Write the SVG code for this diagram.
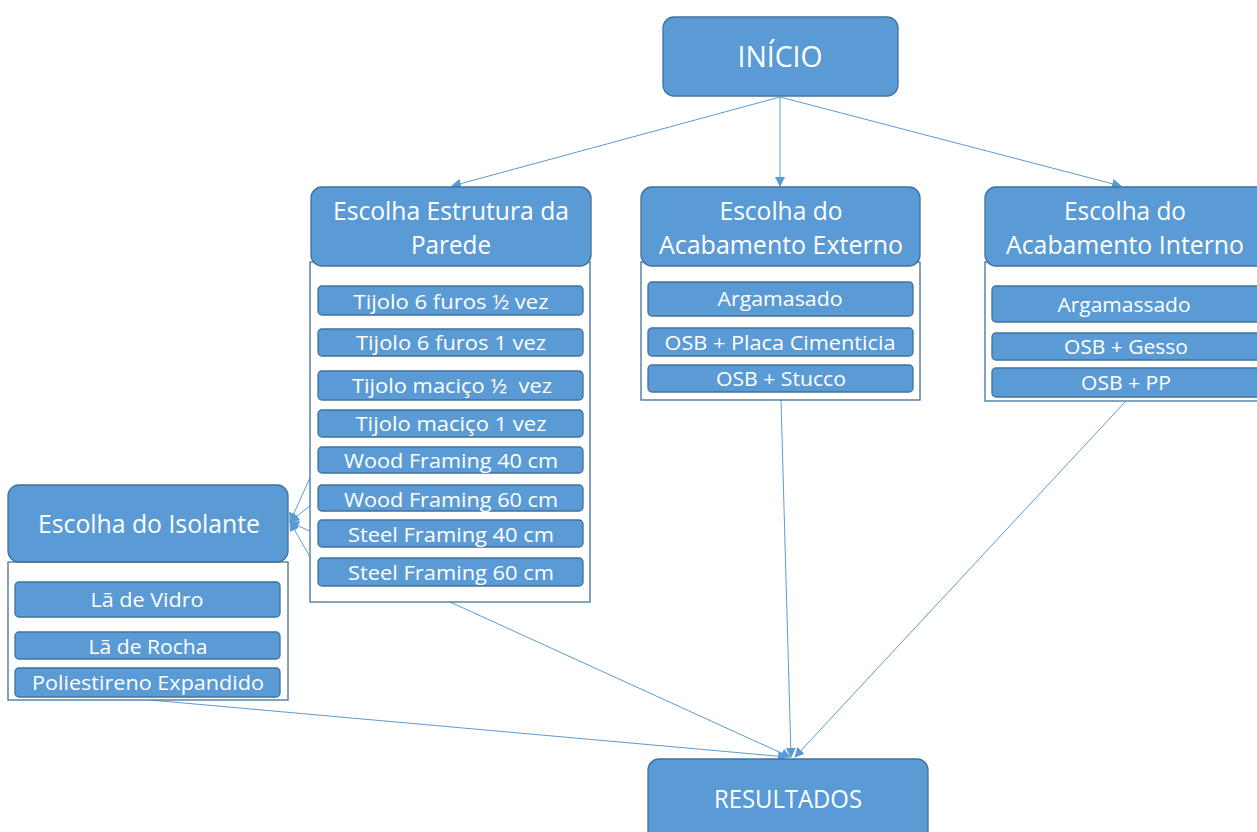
<svg xmlns="http://www.w3.org/2000/svg" width="1257" height="832" viewBox="0 0 1257 832">
<style>
.n{fill:#5B9BD5;stroke:#41719C;stroke-width:1.3}
.i{fill:#5B9BD5;stroke:#41719C;stroke-width:1.3}
.c{fill:#ffffff;stroke:#41719C;stroke-width:1.3}
.t{fill:#ffffff;font-family:"Open Sans","Liberation Sans",sans-serif;text-anchor:middle}
.h{font-size:25px}
.s{font-size:20.5px}
.e{stroke:#5B9BD5;stroke-width:1;fill:none}
</style>
<defs>
<marker id="a" viewBox="0 0 10 10" refX="9" refY="5" markerWidth="10" markerHeight="10" markerUnits="userSpaceOnUse" orient="auto">
<path d="M0,0 L10,5 L0,10 Z" fill="#5B9BD5"/>
</marker>
</defs>
<rect width="1257" height="832" fill="#ffffff"/>
<g id="connectors">
<line class="e" x1="780" y1="97" x2="452" y2="186" marker-end="url(#a)"/>
<line class="e" x1="780" y1="97" x2="780" y2="186" marker-end="url(#a)"/>
<line class="e" x1="780" y1="97" x2="1121" y2="186" marker-end="url(#a)"/>
<line class="e" x1="318" y1="460" x2="290" y2="522" marker-end="url(#a)"/>
<line class="e" x1="318" y1="499" x2="290" y2="522" marker-end="url(#a)"/>
<line class="e" x1="318" y1="535" x2="290" y2="522" marker-end="url(#a)"/>
<line class="e" x1="318" y1="571" x2="290" y2="522" marker-end="url(#a)"/>
<line class="e" x1="450" y1="602" x2="790" y2="757" marker-end="url(#a)"/>
<line class="e" x1="781" y1="400" x2="791" y2="757" marker-end="url(#a)"/>
<line class="e" x1="1125" y1="402" x2="795" y2="757" marker-end="url(#a)"/>
<line class="e" x1="150" y1="700" x2="787" y2="757" marker-end="url(#a)"/>
</g>
<g id="inicio">
<rect class="n" x="663" y="17" width="235" height="79" rx="11"/>
<text class="t" x="780" y="67" font-size="30" textLength="85" lengthAdjust="spacingAndGlyphs">INÍCIO</text>
</g>
<g id="estrutura">
<rect class="c" x="310" y="262" width="280" height="340"/>
<rect class="n" x="311" y="187" width="280" height="79" rx="11"/>
<text class="t h" x="451" y="220" textLength="236" lengthAdjust="spacingAndGlyphs">Escolha Estrutura da</text>
<text class="t h" x="451" y="254" textLength="80" lengthAdjust="spacingAndGlyphs">Parede</text>
</g>
<g id="tijolo-6-meia"><rect class="i" x="318" y="286" width="265" height="29" rx="4"/><text class="t s" x="451" y="309" textLength="195" lengthAdjust="spacingAndGlyphs">Tijolo 6 furos ½ vez</text></g>
<g id="tijolo-6-1"><rect class="i" x="318" y="329" width="265" height="27" rx="4"/><text class="t s" x="451" y="350" textLength="190" lengthAdjust="spacingAndGlyphs">Tijolo 6 furos 1 vez</text></g>
<g id="tijolo-macico-meia"><rect class="i" x="318" y="371" width="265" height="29" rx="4"/><text class="t s" x="452" y="393" textLength="200" lengthAdjust="spacingAndGlyphs" xml:space="preserve">Tijolo maciço ½  vez</text></g>
<g id="tijolo-macico-1"><rect class="i" x="318" y="410" width="265" height="27" rx="4"/><text class="t s" x="451" y="431" textLength="191" lengthAdjust="spacingAndGlyphs">Tijolo maciço 1 vez</text></g>
<g id="wood-40"><rect class="i" x="318" y="447" width="265" height="26" rx="4"/><text class="t s" x="451" y="468" textLength="214" lengthAdjust="spacingAndGlyphs">Wood Framing 40 cm</text></g>
<g id="wood-60"><rect class="i" x="318" y="485" width="265" height="26" rx="4"/><text class="t s" x="451" y="507" textLength="214" lengthAdjust="spacingAndGlyphs">Wood Framing 60 cm</text></g>
<g id="steel-40"><rect class="i" x="318" y="520" width="265" height="27" rx="4"/><text class="t s" x="451" y="542" textLength="206" lengthAdjust="spacingAndGlyphs">Steel Framing 40 cm</text></g>
<g id="steel-60"><rect class="i" x="318" y="558" width="265" height="28" rx="4"/><text class="t s" x="451" y="580" textLength="206" lengthAdjust="spacingAndGlyphs">Steel Framing 60 cm</text></g>
<g id="externo">
<rect class="c" x="641" y="262" width="279" height="138"/>
<rect class="n" x="641" y="187" width="279" height="79" rx="11"/>
<text class="t h" x="781" y="220" textLength="123" lengthAdjust="spacingAndGlyphs">Escolha do</text>
<text class="t h" x="781" y="254" textLength="244" lengthAdjust="spacingAndGlyphs">Acabamento Externo</text>
</g>
<g id="ext-argamasado"><rect class="i" x="648" y="282" width="265" height="34" rx="4"/><text class="t s" x="780" y="306" textLength="125" lengthAdjust="spacingAndGlyphs">Argamasado</text></g>
<g id="ext-osb-placa"><rect class="i" x="648" y="328" width="265" height="28" rx="4"/><text class="t s" x="780" y="350" textLength="231" lengthAdjust="spacingAndGlyphs">OSB + Placa Cimenticia</text></g>
<g id="ext-osb-stucco"><rect class="i" x="648" y="365" width="265" height="27" rx="4"/><text class="t s" x="781" y="386" textLength="130" lengthAdjust="spacingAndGlyphs">OSB + Stucco</text></g>
<g id="interno">
<rect class="c" x="985" y="262" width="280" height="139"/>
<rect class="n" x="985" y="187" width="285" height="79" rx="11"/>
<text class="t h" x="1125" y="220" textLength="122" lengthAdjust="spacingAndGlyphs">Escolha do</text>
<text class="t h" x="1125" y="254" textLength="238" lengthAdjust="spacingAndGlyphs">Acabamento Interno</text>
</g>
<g id="int-argamassado"><rect class="i" x="992" y="286" width="275" height="36" rx="4"/><text class="t s" x="1124" y="312" textLength="133" lengthAdjust="spacingAndGlyphs">Argamassado</text></g>
<g id="int-osb-gesso"><rect class="i" x="992" y="333" width="275" height="27" rx="4"/><text class="t s" x="1126" y="354" textLength="124" lengthAdjust="spacingAndGlyphs">OSB + Gesso</text></g>
<g id="int-osb-pp"><rect class="i" x="992" y="368" width="275" height="29" rx="4"/><text class="t s" x="1126" y="390" textLength="90" lengthAdjust="spacingAndGlyphs">OSB + PP</text></g>
<g id="isolante">
<rect class="c" x="8" y="562" width="280" height="138"/>
<rect class="n" x="8" y="485" width="280" height="77" rx="11"/>
<text class="t h" x="149" y="533" textLength="222" lengthAdjust="spacingAndGlyphs">Escolha do Isolante</text>
</g>
<g id="la-vidro"><rect class="i" x="15" y="582" width="265" height="35" rx="4"/><text class="t s" x="147" y="607" textLength="113" lengthAdjust="spacingAndGlyphs">Lã de Vidro</text></g>
<g id="la-rocha"><rect class="i" x="15" y="632" width="265" height="27" rx="4"/><text class="t s" x="148" y="654" textLength="119" lengthAdjust="spacingAndGlyphs">Lã de Rocha</text></g>
<g id="poliestireno"><rect class="i" x="15" y="668" width="265" height="29" rx="4"/><text class="t s" x="148" y="690" textLength="232" lengthAdjust="spacingAndGlyphs">Poliestireno Expandido</text></g>
<g id="resultados">
<rect class="n" x="648" y="759" width="280" height="90" rx="11"/>
<text class="t" x="788" y="808" font-size="25" textLength="148" lengthAdjust="spacingAndGlyphs">RESULTADOS</text>
</g>
</svg>
